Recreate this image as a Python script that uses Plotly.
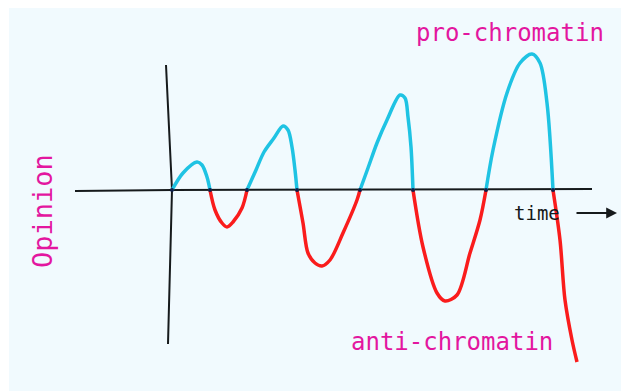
"""Hand-drawn style sketch: opinion on chromatin oscillating over time."""

import plotly.graph_objects as go

# Curve, one list per swing (time, opinion), arbitrary units.
pro_swings = [
    ([0, 11, 25, 30, 35, 38], [0, 17, 28, 25, 13, 0]),
    ([75, 84, 92, 102, 111, 116, 120, 123, 125], [0, 20, 38, 52, 64, 60, 43, 20, 0]),
    ([188, 196, 205, 215, 228, 233, 236, 239, 241], [0, 22, 47, 70, 95, 92, 73, 43, 0]),
    ([314, 321, 335, 348, 360, 368, 375, 381], [0, 40, 97, 127, 136, 127, 87, 0]),
]
anti_swings = [
    ([38, 43, 50, 55, 61, 70, 75], [0, -20, -33, -37, -32, -18, 0]),
    ([125, 131, 136, 143, 150, 158, 171, 185, 188], [0, -33, -63, -73, -76, -70, -43, -10, 0]),
    ([241, 251, 265, 273, 285, 298, 308, 314], [0, -57, -103, -111, -105, -63, -30, 0]),
    ([381, 388, 393, 400, 405], [0, -50, -110, -150, -172]),
]
crossings_t = [0, 38, 75, 125, 188, 241, 314, 381]

time_axis_t = [-97, 0, 420]
time_axis_v = [-1, 0, 1]
opinion_axis_t = [-6, 0, -4]
opinion_axis_v = [125, 0, -154]

CYAN = "#1fc3e3"
RED = "#fa1c1c"
MAGENTA = "#e3169f"
INK = "#161a1c"
PAPER = "#f1fafe"
HAND = "DejaVu Sans Mono"

fig = go.Figure()

fig.add_trace(go.Scatter(x=time_axis_t, y=time_axis_v, mode="lines",
                         line={"color": INK, "width": 2}))
fig.add_trace(go.Scatter(x=opinion_axis_t, y=opinion_axis_v, mode="lines",
                         line={"color": INK, "width": 2}))

for t, v in pro_swings:
    fig.add_trace(go.Scatter(x=t, y=v, mode="lines",
                             line={"color": CYAN, "width": 3.5, "shape": "spline", "smoothing": 0.9}))
for t, v in anti_swings:
    fig.add_trace(go.Scatter(x=t, y=v, mode="lines",
                             line={"color": RED, "width": 3.5, "shape": "spline", "smoothing": 0.9}))

fig.add_trace(go.Scatter(x=crossings_t, y=[0] * len(crossings_t), mode="markers",
                         marker={"color": "#10204a", "size": 4}))

notes = [
    ("pro-chromatin", 338, 157, MAGENTA, 24, 0),
    ("anti-chromatin", 280, -152, MAGENTA, 24, 0),
    ("time", 365, -23, INK, 19, 0),
    ("Opinion", -130, -21, MAGENTA, 27, -90),
]
for text, t, v, color, size, angle in notes:
    fig.add_annotation(x=t, y=v, text=text, showarrow=False, textangle=angle,
                       font={"family": HAND, "size": size, "color": color})

# the little "time" arrow
fig.add_annotation(x=445, y=-23, ax=403, ay=-23, axref="x", ayref="y", text="",
                   showarrow=True, arrowhead=2, arrowsize=1.2, arrowwidth=1.8,
                   arrowcolor=INK)

# page body keeps an 8px margin, so the figure is sized to the rest of the window
fig.update_xaxes(range=[-163, 457], visible=False, fixedrange=True)
fig.update_yaxes(range=[-201, 182], visible=False, fixedrange=True)
fig.update_layout(
    width=621,
    height=383,
    margin={"l": 1, "r": 0, "t": 0, "b": 0},
    paper_bgcolor="#ffffff",
    plot_bgcolor=PAPER,
    showlegend=False,
)

fig.write_html("out.html")
